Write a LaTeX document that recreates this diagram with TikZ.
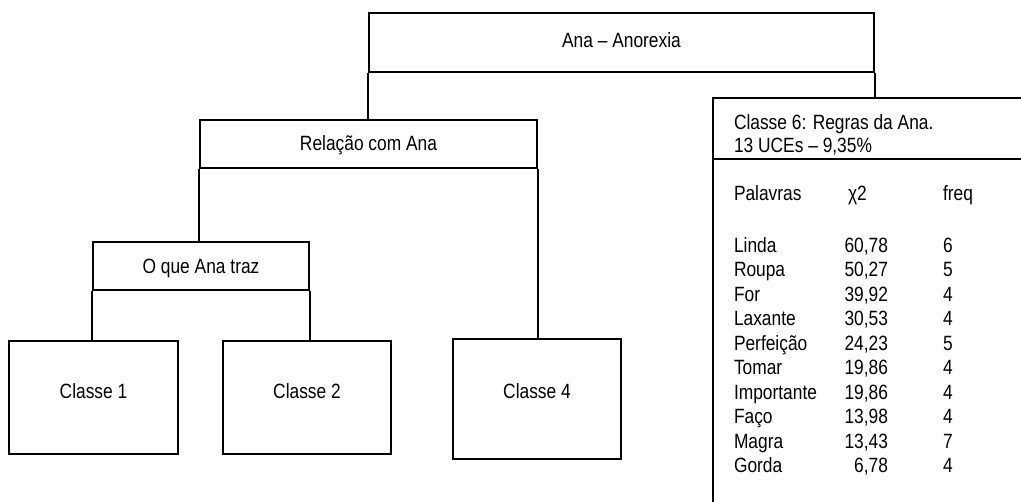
\documentclass[tikz,border=0pt]{standalone}
\usepackage{fontspec}
\setmainfont{Liberation Sans}[FakeStretch=0.84]
\begin{document}
\begin{tikzpicture}[x=0.75pt,y=-0.75pt,line width=1.5pt,
  every node/.style={font=\fontsize{15.5pt}{18pt}\selectfont},
  box/.style={draw,inner sep=0pt,line width=1.5pt},
  txt/.style={inner sep=0pt,text height=11.1pt,text depth=0pt}]
\useasboundingbox (0,0) rectangle (1021,501);
\clip (0,0) rectangle (1021,501);
% boxes
\node[box,minimum width=378.75pt,minimum height=44.25pt] (top) at (621.5,42.5) {};
\node[txt] (toptxt) at (621.5,40) {Ana – Anorexia};
\node[box,minimum width=252.75pt,minimum height=36pt] (rel) at (368.5,144) {};
\node[txt] (reltxt) at (368.5,143) {Relação com Ana};
\node[box,minimum width=162pt,minimum height=36pt] (oque) at (201,266) {};
\node[txt] (oquetxt) at (201,266) {O que Ana traz};
\node[box,minimum width=126.75pt,minimum height=84.75pt] (c1) at (93.5,397.5) {};
\node[txt] (c1txt) at (93.5,391) {Classe 1};
\node[box,minimum width=126pt,minimum height=84.75pt] (c2) at (307,397.5) {};
\node[txt] (c2txt) at (307,391) {Classe 2};
\node[box,minimum width=126pt,minimum height=90pt] (c4) at (537,399) {};
\node[txt] (c4txt) at (537,391) {Classe 4};
\node[box,minimum width=245.25pt,minimum height=316.5pt] (c6) at (876.5,309) {};
\coordinate (div) at (0,159);
\draw (c6.west |- div) -- (c6.east |- div);
% legs
\draw (top.south west) -- (top.south west |- rel.north);
\draw (top.south east) -- (top.south east |- c6.north);
\draw (rel.south west) -- (rel.south west |- oque.north);
\draw (rel.south east) -- (rel.south east |- c4.north);
\draw (oque.south west) -- (oque.south west |- c1.north);
\draw (oque.south east) -- (oque.south east |- c2.north);
% class 6 content
\node[txt,anchor=west] (h1) at (733,122) {Classe 6: Regras da Ana.};
\node[txt,anchor=west] (h2) at (733,145) {13 UCEs – 9,35\%};
\node[txt,anchor=west] (colw) at (733,193) {Palavras};
\node[txt,anchor=west] (colc) at (847,193) {χ2};
\node[txt,anchor=west] (colf) at (942,193) {freq};
\foreach \w/\c/\f [count=\i] in {Linda/{60,78}/6, Roupa/{50,27}/5, For/{39,92}/4,
  Laxante/{30,53}/4, Perfeição/{24,23}/5, Tomar/{19,86}/4, Importante/{19,86}/4,
  Faço/{13,98}/4, Magra/{13,43}/7, Gorda/{6,78}/4} {
  \node[txt,anchor=west] (w\i) at (733,{245+24.5*(\i-1)}) {\w};
  \node[txt,anchor=east] (c\i) at (889,{245+24.5*(\i-1)}) {\c};
  \node[txt,anchor=west] (f\i) at (942,{245+24.5*(\i-1)}) {\f};
}
\end{tikzpicture}
\end{document}
